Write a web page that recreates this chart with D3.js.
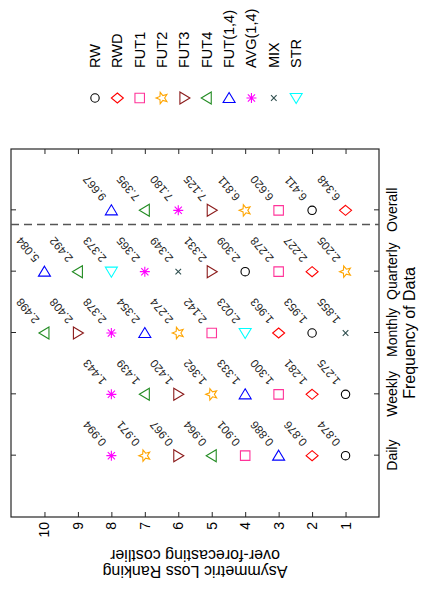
<!DOCTYPE html>
<html><head><meta charset="utf-8">
<script src="https://cdn.jsdelivr.net/npm/d3@7"></script>
<style>
body{margin:0;background:#fff}
svg{display:block;font-family:"Liberation Sans",Arial,Helvetica,sans-serif}
</style>
</head><body>
<svg id="c" width="421" height="589"></svg>
<script>
// ---------- data ----------
const categories = ["Daily", "Weekly", "Monthly", "Quarterly", "Overall"];
const rankTicks = [1, 2, 3, 4, 5, 6, 7, 8, 9, 10];
const seriesNames = ["RW", "RWD", "FUT1", "FUT2", "FUT3", "FUT4", "FUT(1,4)", "AVG(1,4)", "MIX", "STR"];
const seriesColors = ["#000000", "#ff0000", "#ff3399", "#ffa500", "#8b1a1a", "#228b22", "#0000ff", "#ff00ff", "#2f4f4f", "#00ffff"];
const seriesShapes = ["circle", "diamond", "square", "star", "triRight", "triLeft", "triUp", "asterisk", "cross", "triDown"];

// rank (position on the ranking axis) and loss value per category; null = not evaluated
const rankRW    = [1, 1, 2, 4, 2];
const valueRW   = [0.874, 1.275, 1.953, 2.309, 6.411];
const rankRWD   = [2, 2, 3, 2, 1];
const valueRWD  = [0.876, 1.281, 1.963, 2.227, 6.348];
const rankFUT1  = [4, 3, 5, 3, 3];
const valueFUT1 = [0.901, 1.300, 2.142, 2.278, 6.620];
const rankFUT2  = [7, 5, 6, 1, 4];
const valueFUT2 = [0.971, 1.362, 2.274, 2.205, 6.811];
const rankFUT3  = [6, 6, 9, 5, 5];
const valueFUT3 = [0.967, 1.420, 2.408, 2.331, 7.125];
const rankFUT4  = [5, 7, 10, 9, 7];
const valueFUT4 = [0.964, 1.439, 2.498, 2.492, 7.395];
const rankFUT14  = [3, 4, 7, 10, 8];
const valueFUT14 = [0.886, 1.333, 2.354, 5.084, 9.667];
const rankAVG14  = [8, 8, 8, 7, 6];
const valueAVG14 = [0.994, 1.443, 2.378, 2.365, 7.180];
const rankMIX   = [null, null, 1, 6, null];
const valueMIX  = [null, null, 1.855, 2.349, null];
const rankSTR   = [null, null, 4, 8, null];
const valueSTR  = [null, null, 2.023, 2.373, null];

const dividerPosition = 4.77;
const xTitle = "Frequency of Data";
const yTitleLines = ["Asymmetric Loss Ranking", "over-forecasting costlier"];

const seriesRanks = [rankRW, rankRWD, rankFUT1, rankFUT2, rankFUT3, rankFUT4, rankFUT14, rankAVG14, rankMIX, rankSTR];
const seriesValues = [valueRW, valueRWD, valueFUT1, valueFUT2, valueFUT3, valueFUT4, valueFUT14, valueAVG14, valueMIX, valueSTR];

// ---------- layout (drawn upright, then rotated a quarter turn) ----------
const svg = d3.select("#c");
const g = svg.append("g").attr("transform", "translate(0,589) rotate(-90)");

const x = d3.scaleLinear().domain([0, 6]).range([72, 440]);
const y = d3.scaleLinear().domain([0, 11]).range([379, 11]);
const axisColor = "#262626";

// marker paths in screen orientation
function starPath(R, r, n, rot) {
  const pts = [];
  for (let i = 0; i < 2 * n; i++) {
    const a = rot + i * Math.PI / n;
    const rad = i % 2 === 0 ? R : r;
    pts.push([rad * Math.cos(a), rad * Math.sin(a)]);
  }
  return "M" + pts.map(p => p[0].toFixed(2) + "," + p[1].toFixed(2)).join("L") + "Z";
}
const shapePaths = {
  circle: d3.symbol().type(d3.symbolCircle).size(Math.PI * 4.2 * 4.2)(),
  diamond: "M0,-5L6,0L0,5L-6,0Z",
  square: "M-4.75,-4.75H4.75V4.75H-4.75Z",
  star: starPath(6, 2.6, 5, Math.PI),
  triRight: "M5.5,0L-4.5,-6L-4.5,6Z",
  triLeft: "M-5.5,0L4.5,-6L4.5,6Z",
  triUp: "M0,-5.5L6,4.5L-6,4.5Z",
  triDown: "M0,5.5L6,-4.5L-6,-4.5Z",
  asterisk: "M-5,0H5M0,-5V5M-3.6,-3.6L3.6,3.6M-3.6,3.6L3.6,-3.6",
  cross: "M-2.8,-2.8L2.8,2.8M-2.8,2.8L2.8,-2.8"
};
function drawMarker(sel, k, cx, cy) {
  sel.append("path")
    .attr("d", shapePaths[seriesShapes[k]])
    .attr("transform", `translate(${cx},${cy}) rotate(90)`)
    .attr("fill", "none")
    .attr("stroke", seriesColors[k])
    .attr("stroke-width", 1.1);
}

// axes
const fontTick = "14px";
const axLeft = g.append("g").attr("transform", "translate(72,0)")
  .call(d3.axisLeft(y).tickValues(rankTicks).tickSizeInner(-5).tickSizeOuter(0).tickPadding(5));
const axRight = g.append("g").attr("transform", "translate(440,0)")
  .call(d3.axisRight(y).tickValues(rankTicks).tickSizeInner(-5).tickSizeOuter(0).tickFormat(""));
const axBottom = g.append("g").attr("transform", "translate(0,379)")
  .call(d3.axisBottom(x).tickValues([1, 2, 3, 4, 5]).tickFormat(d => categories[d - 1])
    .tickSizeInner(-5).tickSizeOuter(0).tickPadding(8));
const axTop = g.append("g").attr("transform", "translate(0,11)")
  .call(d3.axisTop(x).tickValues([1, 2, 3, 4, 5]).tickSizeInner(-5).tickSizeOuter(0).tickFormat(""));
[axLeft, axRight, axBottom, axTop].forEach(a => {
  a.select(".domain").remove();
  a.selectAll("line").attr("stroke", axisColor).attr("stroke-width", 1);
  a.selectAll("text").attr("fill", "#000").style("font-size", fontTick);
  a.attr("font-family", null);
});

// frame
g.append("rect").attr("x", x(0)).attr("y", y(11)).attr("width", x(6) - x(0)).attr("height", y(0) - y(11))
  .attr("fill", "none").attr("stroke", axisColor).attr("stroke-width", 1.2);

// divider
g.append("line").attr("x1", x(dividerPosition)).attr("x2", x(dividerPosition))
  .attr("y1", y(11)).attr("y2", y(0))
  .attr("stroke", "#555").attr("stroke-width", 1.4).attr("stroke-dasharray", "8,5");

// markers and value labels
seriesNames.forEach((name, k) => {
  categories.forEach((c, i) => {
    const r = seriesRanks[k][i];
    if (r == null) return;
    const cx = x(i + 1), cy = y(r);
    drawMarker(g, k, cx, cy);
    g.append("text")
      .attr("transform", `translate(${cx + 11},${cy - 7.5}) rotate(-40)`)
      .attr("dominant-baseline", "central")
      .attr("fill", "#222")
      .style("font-size", "11.5px")
      .text(seriesValues[k][i].toFixed(3));
  });
});

// axis titles
g.append("text").attr("x", x(3)).attr("y", 415)
  .attr("text-anchor", "middle").style("font-size", "16px").text(xTitle);
yTitleLines.forEach((t, j) => {
  g.append("text")
    .attr("transform", `translate(${17.3 + j * 16.7},${y(5.5)}) rotate(-90)`)
    .attr("text-anchor", "middle").attr("dominant-baseline", "central")
    .style("font-size", "16px").text(t);
});

// legend
seriesNames.forEach((name, k) => {
  const ly = 95 + k * 22.35;
  drawMarker(g, k, 491, ly);
  g.append("text").attr("x", 521).attr("y", ly)
    .attr("dominant-baseline", "central").style("font-size", "14.5px").text(name);
});
</script>
</body></html>
